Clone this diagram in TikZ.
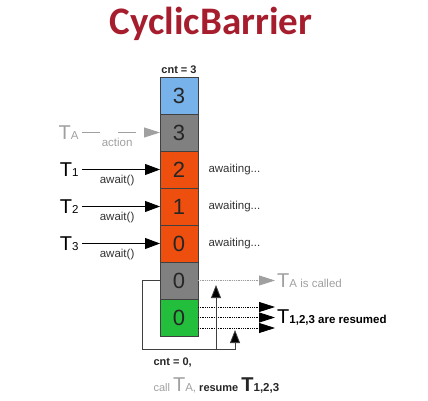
\documentclass[tikz,border=0pt]{standalone}
\usepackage{fontspec}
\setmainfont{Liberation Sans}
\newfontfamily\titlefont{Carlito}
\usetikzlibrary{positioning,arrows.meta}

\definecolor{barblue}{RGB}{120,178,235}
\definecolor{bargray}{RGB}{128,128,128}
\definecolor{barorange}{RGB}{238,78,14}
\definecolor{bargreen}{RGB}{34,190,60}
\definecolor{titlered}{RGB}{166,30,45}
\definecolor{faded}{RGB}{160,160,160}

\newcommand{\bigT}[1]{{\fontsize{20}{20}\selectfont T}{\fontsize{11.5}{12}\selectfont #1}}

\tikzset{
  cell/.style={draw=black!75, minimum width=38pt, minimum height=37pt,
    inner sep=0pt, outer sep=0pt, text=black!85,
    font=\fontsize{22}{22}\selectfont},
  small/.style={text=black!80, font=\fontsize{11.5}{12}\selectfont},
  boldsmall/.style={text=black!85, font=\bfseries\fontsize{11}{12}\selectfont},
  push/.style={-{Triangle[length=15pt,width=11pt]}, line width=0.8pt},
  ghost/.style={draw=faded, dash pattern=on 18pt off 18pt, line width=0.8pt,
    -{Triangle[length=16pt,width=10pt]}},
  dotarr/.style={densely dotted, line width=0.8pt,
    -{Triangle[length=16pt,width=10pt]}},
  loopline/.style={draw=black!75, line width=0.8pt,
    -{Triangle[length=13pt,width=10pt,fill=black]}}
}

\begin{document}
\begin{tikzpicture}[x=1pt,y=-1pt]
  \useasboundingbox (0,0) rectangle (428,401);

  \node[text=titlered, font=\titlefont\bfseries\fontsize{39}{39}\selectfont]
    (title) at (211,24) {CyclicBarrier};

  \node[cell, fill=barblue] (c1) at (179,95.5) {3};
  \node[cell, fill=bargray, below=0pt of c1] (c2) {3};
  \node[cell, fill=barorange, below=0pt of c2] (c3) {2};
  \node[cell, fill=barorange, below=0pt of c3] (c4) {1};
  \node[cell, fill=barorange, below=0pt of c4] (c5) {0};
  \node[cell, fill=bargray, below=0pt of c5] (c6) {0};
  \node[cell, fill=bargreen, below=0pt of c6] (c7) {0};
  \node[boldsmall, above=0pt of c1] (cnt) {cnt = 3};

  \node[text=faded, left=78pt of c2] (ta) {\bigT{A}};
  \node[left=78pt of c3] (t1) {\bigT{1}};
  \node[left=78pt of c4] (t2) {\bigT{2}};
  \node[left=78pt of c5] (t3) {\bigT{3}};

  \draw[ghost] (ta) -- node[small, text=faded, below=2pt, pos=0.45] {action} (c2);
  \draw[push] (t1) -- node[small, below=2pt, pos=0.45] {await()} (c3);
  \draw[push] (t2) -- node[small, below=2pt, pos=0.45] {await()} (c4);
  \draw[push] (t3) -- node[small, below=2pt, pos=0.45] {await()} (c5);

  \node[small, right=7pt of c3] (w1) {awaiting...};
  \node[small, right=7pt of c4] (w2) {awaiting...};
  \node[small, right=7pt of c5] (w3) {awaiting...};

  \node[text=faded, inner sep=2pt, right=77pt of c6] (called) {\bigT{A is called}};
  \node[inner sep=2pt, right=77pt of c7] (resumed) {\bigT{\bfseries 1,2,3 are resumed}};

  \draw[dotarr, draw=faded, fill=faded] (c6) -- (called);
  \draw[dotarr] ([yshift=10.5pt]c7.east) -- ([yshift=10.5pt]c7.east -| resumed.west);
  \draw[dotarr] (c7) -- (resumed);
  \draw[dotarr] ([yshift=-10.5pt]c7.east) -- ([yshift=-10.5pt]c7.east -| resumed.west);

  \coordinate (corner) at (142,349);
  \coordinate (tipR) at (235,330);
  \coordinate (tipA) at (216,285);
  \draw[loopline] (c6.west) -| (corner) -| (tipR);
  \draw[loopline] (tipA |- corner) -- (tipA);

  \node[boldsmall, anchor=west] (cnt0) at (150,363) {cnt = 0,};
  \node[boldsmall, anchor=west] (callnote) at (150,386)
    {\textcolor{faded}{\mdseries call \bigT{A,}} resume \bigT{1,2,3}};
\end{tikzpicture}
\end{document}
